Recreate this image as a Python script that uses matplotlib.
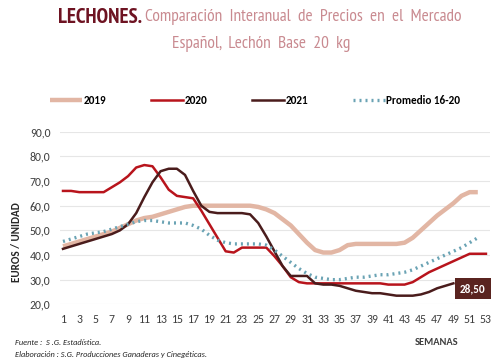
"""
Lechones: comparacion interanual de precios, lechon base 20 kg
"""

import numpy as np
import matplotlib.pyplot as plt

# Data
weeks_2019 = list(range(1, 53))
precio_2019 = [43.5, 44.5, 45.5, 46.5, 47.5, 48.5, 49.5, 51, 52.5, 54,
               55, 55.5, 56.5, 57.5, 58.5, 59.5, 60, 60, 60, 60,
               60, 60, 60, 60, 59.5, 58.5, 57, 54.5, 52, 48.5,
               45, 42, 41, 41, 42, 44, 44.5, 44.5, 44.5, 44.5,
               44.5, 44.5, 45, 47, 50, 53, 56, 58.5, 61, 64,
               65.5, 65.5]

weeks_2020 = list(range(1, 54))
precio_2020 = [66, 66, 65.5, 65.5, 65.5, 65.5, 67.5, 69.5, 72, 75.5,
               76.5, 76, 71.5, 66.5, 64, 63.5, 63, 58, 52.5, 47,
               41.5, 41, 43, 43, 43, 43, 39.5, 35.5, 31, 29,
               28.5, 28.5, 28.5, 28.5, 28.5, 28.5, 28.5, 28.5, 28.5, 28.5,
               28, 28, 28, 29, 31, 33, 34.5, 36, 37.5, 39,
               40.5, 40.5, 40.5]

weeks_2021 = list(range(1, 50))
precio_2021 = [42.5, 43.5, 44.5, 45.5, 46.5, 47.5, 48.5, 50, 52.5, 57,
               63.5, 69.5, 74, 75, 75, 72.5, 66, 60, 57.5, 57,
               57, 57, 57, 56.5, 53, 47.5, 41.5, 35.5, 31.5, 31.5,
               31.5, 28.5, 28, 28, 27.5, 26.5, 25.5, 25, 24.5, 24.5,
               24, 23.5, 23.5, 23.5, 24, 25, 26.5, 27.5, 28.5]

weeks_prom = list(range(1, 53))
precio_prom = [45.5, 46.5, 47.5, 48.5, 49, 49.5, 50.5, 51.5, 52.5, 53.5,
               54, 54, 53.5, 53, 53, 53, 52, 50.5, 48, 46,
               45, 44.5, 44.5, 44.5, 44.5, 44, 42, 39.5, 37, 34.5,
               32.5, 31, 30.5, 30, 30, 30.5, 31, 31, 31.5, 32,
               32, 32.5, 33, 34, 35.5, 37, 38.5, 40, 41.5, 43,
               45, 47]

x_ticks = list(range(1, 54, 2))
y_ticks = [20, 30, 40, 50, 60, 70, 80, 90]
ultimo_valor = "28,50"

TITLE_FONT = ["PT Sans Narrow", "Cabin Condensed", "DejaVu Sans"]
BODY_FONT = ["Carlito", "DejaVu Sans"]


def main():
    fig = plt.figure(figsize=(5, 3.64), dpi=100)
    ax = fig.add_axes([0.12, 0.164, 0.86, 0.474])

    ax.plot(weeks_2019, precio_2019, color="#e2b6a4", lw=3.2,
            solid_capstyle="butt", label="2019")
    ax.plot(weeks_2020, precio_2020, color="#b8141c", lw=1.8, label="2020")
    ax.plot(weeks_2021, precio_2021, color="#4a1c1c", lw=1.8, label="2021")
    ax.plot(weeks_prom, precio_prom, color="#6aa3b4", lw=2.4,
            linestyle=(0, (0.6, 1.2)), dash_capstyle="butt",
            label="Promedio 16-20")

    # label with the last 2021 value
    ax.annotate(ultimo_valor, xy=(weeks_2021[-1], precio_2021[-1]),
                xytext=(14, -4), textcoords="offset points",
                ha="center", va="center", color="white", fontsize=8,
                fontweight="bold", family=BODY_FONT,
                bbox=dict(boxstyle="square,pad=0.45", fc="#5a2420", ec="none"))

    ax.set_xlim(0.63, 53.5)
    ax.set_ylim(20, 90)
    ax.set_xticks(x_ticks)
    ax.set_yticks(y_ticks)
    ax.set_yticklabels([f"{v:.1f}".replace(".", ",") for v in y_ticks])
    ax.tick_params(length=0, labelsize=8.5, labelcolor="#404040", pad=7)
    for lab in ax.get_xticklabels() + ax.get_yticklabels():
        lab.set_family(BODY_FONT)
    ax.grid(axis="y", color="#e6e6e6", lw=0.8)
    ax.set_axisbelow(True)
    for s in ax.spines.values():
        s.set_visible(False)

    fig.legend(loc="center", bbox_to_anchor=(0.51, 0.725), ncol=4,
               frameon=False, handlelength=2.9, handletextpad=0.15,
               columnspacing=4.0,
               prop={"family": BODY_FONT, "weight": "bold", "size": 8})

    # titles
    fig.text(0.116, 0.953, "LECHONES.", color="#6e1322", fontsize=15,
             fontweight="bold", family=TITLE_FONT, va="center")
    fig.text(0.29, 0.953, "Comparación  Interanual  de  Precios  en  el  Mercado",
             color="#c98a90", fontsize=12.5, family=TITLE_FONT, va="center")
    fig.text(0.523, 0.878, "Español,  Lechón  Base  20  kg", color="#c98a90",
             fontsize=12.5, family=TITLE_FONT, ha="center", va="center")

    fig.text(0.034, 0.335, "EUROS / UNIDAD", rotation=90, ha="center",
             va="center", fontsize=8, fontweight="bold", color="#262626",
             family=BODY_FONT)
    fig.text(0.874, 0.058, "SEMANAS", ha="center", va="center", fontsize=7.5,
             fontweight="bold", color="#404040", family=BODY_FONT)
    fig.text(0.03, 0.058, "Fuente :  S .G. Estadística.", fontsize=6,
             style="italic", color="#262626", va="center", family=BODY_FONT)
    fig.text(0.03, 0.026, "Elaboración : S.G. Producciones Ganaderas y Cinegéticas.",
             fontsize=6, style="italic", color="#262626", va="center",
             family=BODY_FONT)

    fig.savefig("out.png", dpi=100)


if __name__ == "__main__":
    main()
